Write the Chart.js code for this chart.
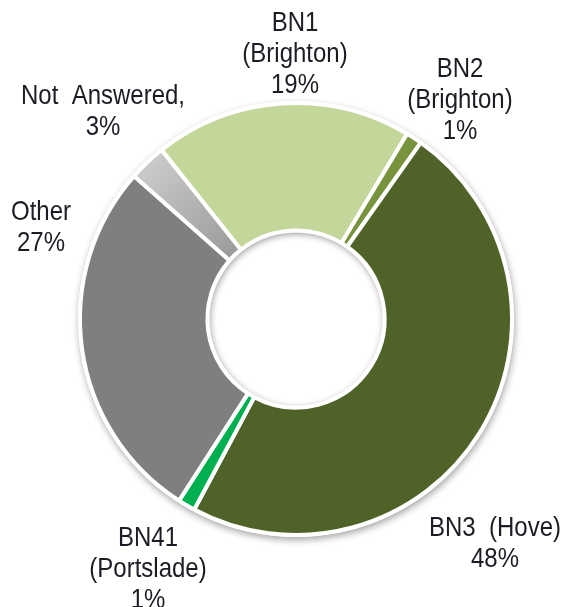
<!DOCTYPE html>
<html>
<head>
<meta charset="utf-8">
<script src="https://cdn.jsdelivr.net/npm/chart.js@4/dist/chart.umd.min.js"></script>
<style>
    html, body { margin: 0; padding: 0; background: #fff; }
    #wrap { width: 563px; height: 607px; position: relative; }
</style>
</head>
<body>
<div id="wrap"><canvas id="postcodeChart"></canvas></div>
<script>
// Postcode share (percent)
const categories = [
    ['BN1', '(Brighton)'],
    ['BN2', '(Brighton)'],
    ['BN3  (Hove)'],
    ['BN41', '(Portslade)'],
    ['Other'],
    ['Not  Answered,']
];
const shares = [19.3, 1.2, 48.0, 1.3, 27.4, 2.8];
const sliceColors = ['#c4d79b', '#77933c', '#4f6228', '#00b050', '#7f7f7f', null];

// label anchor offsets from the doughnut centre (style only)
const labelOffsets = [[-1, -264], [164, -218], [199, 225], [-148, 251], [-255, -91], [-193, -207]];

const LABEL_FONT = '24px "Liberation Sans", Arial, sans-serif';
const LINE_H = 31;

function ringGeometry(chart) {
    const a = chart.chartArea;
    const meta = chart.getDatasetMeta(0);
    const arc = meta.data[0];
    return { x: arc.x, y: arc.y, outer: arc.outerRadius, inner: arc.innerRadius, area: a };
}

// soft shadow under the ring and an inset shadow inside the hole
const shadowPlugin = {
    id: 'ringShadow',
    beforeDatasetsDraw(chart) {
        const g = ringGeometry(chart);
        const ctx = chart.ctx;
        ctx.save();
        ctx.shadowColor = 'rgba(0,0,0,0.35)';
        ctx.shadowBlur = 7;
        ctx.shadowOffsetX = 1;
        ctx.shadowOffsetY = 3;
        ctx.fillStyle = '#fff';
        ctx.beginPath();
        ctx.arc(g.x, g.y, g.outer + 2, 0, Math.PI * 2);
        ctx.fill();
        ctx.restore();
    },
    afterDatasetsDraw(chart) {
        const g = ringGeometry(chart);
        const ctx = chart.ctx;
        const r = g.inner - 2;
        ctx.save();
        ctx.beginPath();
        ctx.arc(g.x, g.y, r, 0, Math.PI * 2);
        ctx.clip();
        ctx.shadowColor = 'rgba(0,0,0,0.35)';
        ctx.shadowBlur = 6;
        ctx.shadowOffsetX = 1;
        ctx.shadowOffsetY = 2;
        ctx.fillStyle = '#fff';
        ctx.beginPath();
        ctx.arc(g.x, g.y, r + 40, 0, Math.PI * 2);
        ctx.arc(g.x, g.y, r, 0, Math.PI * 2, true);
        ctx.fill();
        ctx.restore();
    }
};

const labelPlugin = {
    id: 'sliceLabels',
    afterDraw(chart) {
        const g = ringGeometry(chart);
        const ctx = chart.ctx;
        ctx.save();
        ctx.font = LABEL_FONT;
        ctx.fillStyle = '#1c1c24';
        ctx.textAlign = 'center';
        ctx.textBaseline = 'middle';
        categories.forEach((lines, i) => {
            const all = lines.concat([Math.round(shares[i]) + '%']);
            const cx = g.x + labelOffsets[i][0];
            const cy = g.y + labelOffsets[i][1];
            const top = cy - (all.length - 1) * LINE_H / 2;
            all.forEach((t, j) => {
                ctx.save();
                ctx.translate(cx, top + j * LINE_H);
                ctx.scale(1, 1.12);
                ctx.fillText(t, 0, 0);
                ctx.restore();
            });
        });
        ctx.restore();
    }
};

function sliceColor(context) {
    const c = sliceColors[context.dataIndex];
    if (c) return c;
    const chart = context.chart;
    const a = chart.chartArea;
    if (!a) return '#b0b0b0';
    const cx = (a.left + a.right) / 2;
    const cy = (a.top + a.bottom) / 2;
    const r = Math.min(a.width, a.height) / 2;
    const grad = chart.ctx.createRadialGradient(cx, cy, r * 0.4, cx, cy, r);
    grad.addColorStop(0, '#9a9a9a');
    grad.addColorStop(1, '#cbcbcb');
    return grad;
}

new Chart(document.getElementById('postcodeChart'), {
    type: 'doughnut',
    data: {
        labels: categories,
        datasets: [{
            data: shares,
            backgroundColor: sliceColor,
            borderColor: '#ffffff',
            borderWidth: 4,
            hoverOffset: 0
        }]
    },
    options: {
        responsive: true,
        maintainAspectRatio: false,
        animation: false,
        rotation: -38.5,
        cutout: '41%',
        layout: { padding: { left: 78, right: 49, top: 101, bottom: 70 } },
        plugins: {
            legend: { display: false },
            tooltip: { enabled: false }
        }
    },
    plugins: [shadowPlugin, labelPlugin]
});
</script>
</body>
</html>
